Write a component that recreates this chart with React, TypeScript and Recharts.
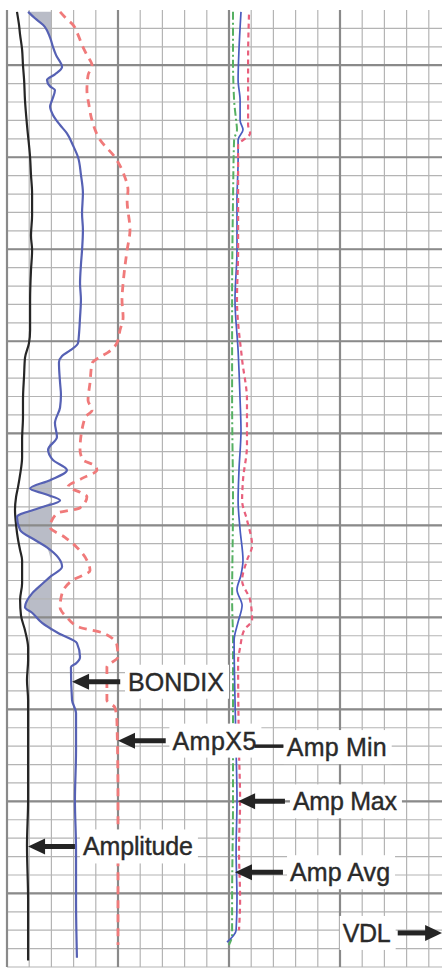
import React from 'react';
import { ComposedChart, Line, Area, XAxis, YAxis, ReferenceLine, ReferenceDot } from 'recharts';

// depth d in ft (2 ft per minor row), v in grid units (1 per column)
const amplitude = [
  { d: 0.2, v: 0.45 }, { d: 1.6, v: 0.54 }, { d: 2.7, v: 0.59 }, { d: 4.3, v: 0.68 }, { d: 6.0, v: 0.72 },
  { d: 7.6, v: 0.77 }, { d: 9.8, v: 0.81 }, { d: 12.5, v: 0.9 }, { d: 16.0, v: 1.04 }, { d: 17.9, v: 1.08 },
  { d: 19.9, v: 1.13 }, { d: 22.3, v: 1.13 }, { d: 24.5, v: 1.08 }, { d: 26.1, v: 1.13 }, { d: 28.3, v: 1.08 },
  { d: 31.5, v: 1.04 }, { d: 34.8, v: 1.04 }, { d: 36.2, v: 0.99 }, { d: 37.8, v: 0.81 }, { d: 39.7, v: 0.77 },
  { d: 42.4, v: 0.72 }, { d: 44.2, v: 0.72 }, { d: 46.7, v: 0.68 }, { d: 48.6, v: 0.68 }, { d: 50.5, v: 0.59 },
  { d: 51.8, v: 0.5 }, { d: 52.9, v: 0.41 }, { d: 54.3, v: 0.36 }, { d: 56.0, v: 0.41 }, { d: 57.6, v: 0.5 },
  { d: 58.7, v: 0.59 }, { d: 59.8, v: 0.68 }, { d: 62.3, v: 0.68 }, { d: 64.1, v: 0.59 }, { d: 65.8, v: 0.63 },
  { d: 67.4, v: 0.81 }, { d: 69.3, v: 0.95 }, { d: 70.7, v: 0.95 }, { d: 72.8, v: 0.9 }, { d: 75.0, v: 0.95 },
  { d: 80.4, v: 0.95 }, { d: 85.9, v: 0.95 }, { d: 90.8, v: 0.9 }, { d: 96.7, v: 0.95 }, { d: 103.3, v: 0.95 },
];

const bondix = [
  { d: 0.2, v: 0.95 }, { d: 0.9, v: 1.26 }, { d: 1.6, v: 1.62 }, { d: 3.0, v: 1.94 }, { d: 4.0, v: 2.07 },
  { d: 4.9, v: 2.21 }, { d: 6.2, v: 2.48 }, { d: 7.0, v: 2.16 }, { d: 7.6, v: 1.8 }, { d: 8.3, v: 1.94 },
  { d: 8.7, v: 2.16 }, { d: 9.8, v: 2.03 }, { d: 10.5, v: 1.94 }, { d: 11.4, v: 2.07 }, { d: 12.5, v: 2.39 },
  { d: 13.4, v: 2.7 }, { d: 14.7, v: 2.97 }, { d: 16.0, v: 3.2 }, { d: 17.9, v: 3.33 }, { d: 19.9, v: 3.42 },
  { d: 22.1, v: 3.38 }, { d: 23.9, v: 3.42 }, { d: 26.1, v: 3.38 }, { d: 27.7, v: 3.33 }, { d: 29.7, v: 3.29 },
  { d: 31.5, v: 3.33 }, { d: 33.4, v: 3.29 }, { d: 35.3, v: 3.24 }, { d: 36.2, v: 3.2 }, { d: 37.0, v: 2.84 },
  { d: 37.6, v: 2.48 }, { d: 38.3, v: 2.34 }, { d: 40.5, v: 2.39 }, { d: 41.8, v: 2.43 }, { d: 43.2, v: 2.39 },
  { d: 44.9, v: 2.16 }, { d: 46.4, v: 2.25 }, { d: 47.8, v: 1.85 }, { d: 48.9, v: 2.07 }, { d: 50.0, v: 2.7 },
  { d: 51.1, v: 1.94 }, { d: 52.0, v: 1.04 }, { d: 52.6, v: 1.71 }, { d: 53.3, v: 2.39 }, { d: 54.1, v: 1.49 },
  { d: 55.1, v: 0.45 }, { d: 56.5, v: 0.59 }, { d: 57.6, v: 1.26 }, { d: 58.4, v: 1.8 }, { d: 60.5, v: 2.48 },
  { d: 61.6, v: 1.94 }, { d: 62.3, v: 1.62 }, { d: 63.4, v: 1.13 }, { d: 64.9, v: 0.81 }, { d: 65.5, v: 1.13 },
  { d: 66.6, v: 1.58 }, { d: 67.7, v: 2.3 }, { d: 68.8, v: 3.15 }, { d: 70.3, v: 3.29 }, { d: 71.0, v: 3.11 },
  { d: 71.4, v: 2.88 }, { d: 75.0, v: 2.93 }, { d: 76.4, v: 3.11 }, { d: 80.4, v: 3.11 }, { d: 85.9, v: 3.06 },
  { d: 91.3, v: 3.11 }, { d: 96.7, v: 3.11 }, { d: 103.0, v: 3.15 },
];

const ampX5 = [
  { d: 0.2, v: 2.39 }, { d: 0.9, v: 2.66 }, { d: 1.6, v: 2.97 }, { d: 2.7, v: 3.2 }, { d: 3.8, v: 3.38 },
  { d: 4.9, v: 3.6 }, { d: 6.0, v: 3.83 }, { d: 7.1, v: 3.65 }, { d: 8.7, v: 3.6 }, { d: 10.3, v: 3.69 },
  { d: 12.0, v: 3.83 }, { d: 14.1, v: 4.19 }, { d: 16.0, v: 4.86 }, { d: 17.9, v: 5.27 }, { d: 19.6, v: 5.45 },
  { d: 20.7, v: 5.41 }, { d: 23.9, v: 5.54 }, { d: 26.1, v: 5.41 }, { d: 27.7, v: 5.32 }, { d: 29.7, v: 5.23 },
  { d: 31.5, v: 5.18 }, { d: 33.4, v: 5.23 }, { d: 34.8, v: 5.09 }, { d: 36.2, v: 4.95 }, { d: 37.2, v: 4.55 },
  { d: 37.7, v: 4.19 }, { d: 38.4, v: 3.83 }, { d: 40.5, v: 3.74 }, { d: 42.4, v: 3.65 }, { d: 43.5, v: 3.83 },
  { d: 44.3, v: 3.51 }, { d: 47.8, v: 3.29 }, { d: 48.9, v: 3.42 }, { d: 49.5, v: 3.96 }, { d: 50.0, v: 4.05 },
  { d: 50.9, v: 3.38 }, { d: 51.8, v: 2.75 }, { d: 52.4, v: 3.29 }, { d: 52.9, v: 3.6 }, { d: 54.1, v: 3.29 },
  { d: 54.7, v: 2.25 }, { d: 56.2, v: 1.94 }, { d: 57.3, v: 2.61 }, { d: 58.4, v: 3.15 }, { d: 59.8, v: 3.6 },
  { d: 60.9, v: 3.74 }, { d: 62.0, v: 2.93 }, { d: 63.4, v: 2.48 }, { d: 64.9, v: 2.39 }, { d: 66.0, v: 2.7 },
  { d: 67.1, v: 3.29 }, { d: 67.7, v: 4.32 }, { d: 69.0, v: 4.95 }, { d: 70.3, v: 5.0 }, { d: 71.4, v: 4.5 },
  { d: 75.0, v: 4.5 }, { d: 75.8, v: 4.86 }, { d: 77.2, v: 4.95 }, { d: 85.9, v: 5.0 }, { d: 94.6, v: 5.0 },
  { d: 101.6, v: 5.0 },
];

const ampMin = [
  { d: 0.2, v: 10.18 }, { d: 5.4, v: 10.18 }, { d: 9.8, v: 10.23 }, { d: 12.0, v: 10.32 }, { d: 13.0, v: 10.36 },
  { d: 14.1, v: 10.23 }, { d: 20.7, v: 10.18 }, { d: 31.5, v: 10.14 }, { d: 42.4, v: 10.14 }, { d: 53.3, v: 10.18 },
  { d: 64.1, v: 10.14 }, { d: 68.5, v: 10.18 }, { d: 75.0, v: 10.18 }, { d: 85.9, v: 10.18 }, { d: 96.7, v: 10.14 },
  { d: 100.5, v: 10.14 }, { d: 101.6, v: 10.0 },
];

const ampAvg = [
  { d: 0.2, v: 10.54 }, { d: 4.3, v: 10.45 }, { d: 7.6, v: 10.41 }, { d: 9.8, v: 10.5 }, { d: 12.0, v: 10.5 },
  { d: 13.0, v: 10.63 }, { d: 14.1, v: 10.41 }, { d: 16.3, v: 10.41 }, { d: 20.7, v: 10.36 }, { d: 26.1, v: 10.36 },
  { d: 31.5, v: 10.27 }, { d: 37.0, v: 10.41 }, { d: 42.4, v: 10.5 }, { d: 45.7, v: 10.54 }, { d: 50.0, v: 10.45 },
  { d: 53.3, v: 10.41 }, { d: 56.5, v: 10.5 }, { d: 59.8, v: 10.63 }, { d: 61.4, v: 10.54 }, { d: 63.0, v: 10.36 },
  { d: 64.7, v: 10.59 }, { d: 66.5, v: 10.41 }, { d: 68.5, v: 10.23 }, { d: 75.0, v: 10.27 }, { d: 80.4, v: 10.32 },
  { d: 85.9, v: 10.36 }, { d: 91.3, v: 10.32 }, { d: 96.7, v: 10.36 }, { d: 100.0, v: 10.32 }, { d: 101.3, v: 9.91 },
];

const ampMax = [
  { d: 0.5, v: 10.9 }, { d: 5.4, v: 10.86 }, { d: 9.8, v: 10.86 }, { d: 12.5, v: 10.86 }, { d: 13.4, v: 10.95 },
  { d: 14.7, v: 10.41 }, { d: 20.7, v: 10.41 }, { d: 26.1, v: 10.41 }, { d: 31.5, v: 10.36 }, { d: 38.0, v: 10.59 },
  { d: 42.4, v: 10.81 }, { d: 47.3, v: 10.81 }, { d: 51.1, v: 10.63 }, { d: 53.3, v: 10.59 }, { d: 55.4, v: 10.81 },
  { d: 58.2, v: 11.04 }, { d: 59.8, v: 10.81 }, { d: 62.0, v: 10.59 }, { d: 64.1, v: 10.95 }, { d: 66.3, v: 11.04 },
  { d: 67.4, v: 10.68 }, { d: 69.3, v: 10.5 }, { d: 70.7, v: 10.41 }, { d: 80.4, v: 10.45 }, { d: 85.9, v: 10.5 },
  { d: 91.3, v: 10.45 }, { d: 96.7, v: 10.5 }, { d: 100.0, v: 10.45 },
];

// BONDIX shading where the curve is left of the cutoff column
const bondCutoff = 2;
const bondShade = bondix.map((p) => ({ d: p.d, v: Math.min(p.v, bondCutoff) }));

const gridCols = Array.from({ length: 21 }, (_, i) => i);
const gridRows = Array.from({ length: 52 }, (_, i) => (i + 1) * 2);
const majorCols = [0, 5, 10, 15, 20];
const majorRows = [6, 16, 26, 36, 46, 56, 66, 76, 86, 96];

const labels = [
  { text: 'BONDIX', d: 73.0, tip: 2.93, tail: 5.1, tx: 5.45, w: 100, dir: -1 },
  { text: 'AmpX5', d: 79.4, tip: 5.0, tail: 7.15, tx: 7.45, w: 88, dir: -1 },
  { text: 'Amp Min', d: 80.1, tip: null, tail: null, tx: 12.6, w: 104, dir: 0 },
  { text: 'Amp Max', d: 86.0, tip: 10.41, tail: 12.52, tx: 12.88, w: 108, dir: -1 },
  { text: 'Amplitude', d: 90.9, tip: 0.95, tail: 3.06, tx: 3.42, w: 114, dir: -1 },
  { text: 'Amp Avg', d: 93.7, tip: 10.27, tail: 12.43, tx: 12.75, w: 104, dir: -1 },
  { text: 'VDL', d: 100.3, tip: 19.6, tail: 17.6, tx: 15.12, w: 52, dir: 1 },
];
const connector = { d: 80.0, from: 11.15, to: 12.45 };

const ink = '#242424';
const font = '"Liberation Sans", Arial, sans-serif';

const Head = (dir: number) => (props: any) => {
  const { cx, cy } = props;
  const back = cx - dir * 17;
  return <polygon points={`${cx},${cy} ${back},${cy - 8} ${back},${cy + 8}`} fill={ink} />;
};

const TextBox = (text: string, w: number) => (props: any) => {
  const { cx, cy } = props;
  return (
    <g>
      <rect x={cx - 3} y={cy - 17} width={w + 4} height={34} fill="#fff" />
      <text x={cx} y={cy + 9} fontSize={25} fontFamily={font} fill="#2a2a2a" stroke="#2a2a2a" strokeWidth={0.4} textLength={w - 4}>
        {text}
      </text>
    </g>
  );
};

export default function App() {
  return (
    <div style={{ position: 'absolute', left: 0, top: 0, width: 442, height: 970, overflow: 'hidden', background: '#fff' }}>
      <ComposedChart width={460} height={970} layout="vertical" margin={{ top: 10, right: 9, bottom: 3, left: 7 }}>
        <XAxis type="number" dataKey="v" domain={[0, 20]} hide allowDataOverflow />
        <YAxis type="number" dataKey="d" domain={[0, 104]} hide allowDataOverflow />

        {gridCols.map((c) => (
          <ReferenceLine key={'c' + c} x={c} stroke="#b4b4b4" strokeWidth={1.2} />
        ))}
        {gridRows.map((r) => (
          <ReferenceLine key={'r' + r} y={r} stroke="#b4b4b4" strokeWidth={1.2} />
        ))}
        {majorCols.map((c) => (
          <ReferenceLine key={'mc' + c} x={c} stroke="#8a8a8a" strokeWidth={2.2} />
        ))}
        {majorRows.map((r) => (
          <ReferenceLine key={'mr' + r} y={r} stroke="#8a8a8a" strokeWidth={2.2} />
        ))}

        <Area data={bondShade} dataKey="v" type="monotone" baseValue={bondCutoff} stroke="none" fill="#a2a6b4" fillOpacity={0.75} isAnimationActive={false} />

        <Line data={amplitude} dataKey="v" type="monotone" stroke="#262626" strokeWidth={2.2} dot={false} activeDot={false} isAnimationActive={false} />
        <Line data={bondix} dataKey="v" type="monotone" stroke="#5661b4" strokeWidth={2.2} dot={false} activeDot={false} isAnimationActive={false} />
        <Line data={ampX5} dataKey="v" type="monotone" stroke="#f07a7a" strokeWidth={2.8} strokeDasharray="8 6" dot={false} activeDot={false} isAnimationActive={false} />
        <Line data={ampMin} dataKey="v" type="monotone" stroke="#56b062" strokeWidth={2} strokeDasharray="8 3 2 3" dot={false} activeDot={false} isAnimationActive={false} />
        <Line data={ampAvg} dataKey="v" type="monotone" stroke="#4a5cc0" strokeWidth={1.7} dot={false} activeDot={false} isAnimationActive={false} />
        <Line data={ampMax} dataKey="v" type="monotone" stroke="#e8607c" strokeWidth={2.2} strokeDasharray="5 4" dot={false} activeDot={false} isAnimationActive={false} />

        {labels.map((l) => (
          <ReferenceDot key={'t' + l.text} x={l.tx} y={l.d} r={1} shape={TextBox(l.text, l.w)} zIndex={1000} />
        ))}
        <ReferenceLine
          segment={[{ x: connector.from, y: connector.d }, { x: connector.to, y: connector.d }]}
          stroke={ink}
          strokeWidth={3.5}
          zIndex={1100}
        />
        {labels
          .filter((l) => l.tip !== null)
          .map((l) => (
            <ReferenceLine
              key={'s' + l.text}
              segment={[{ x: l.tail as number, y: l.d }, { x: (l.tip as number) - l.dir * 0.6, y: l.d }]}
              stroke={ink}
              strokeWidth={5}
              zIndex={1100}
            />
          ))}
        {labels
          .filter((l) => l.tip !== null)
          .map((l) => (
            <ReferenceDot key={'h' + l.text} x={l.tip as number} y={l.d} r={1} shape={Head(l.dir)} zIndex={1200} />
          ))}
      </ComposedChart>
    </div>
  );
}
